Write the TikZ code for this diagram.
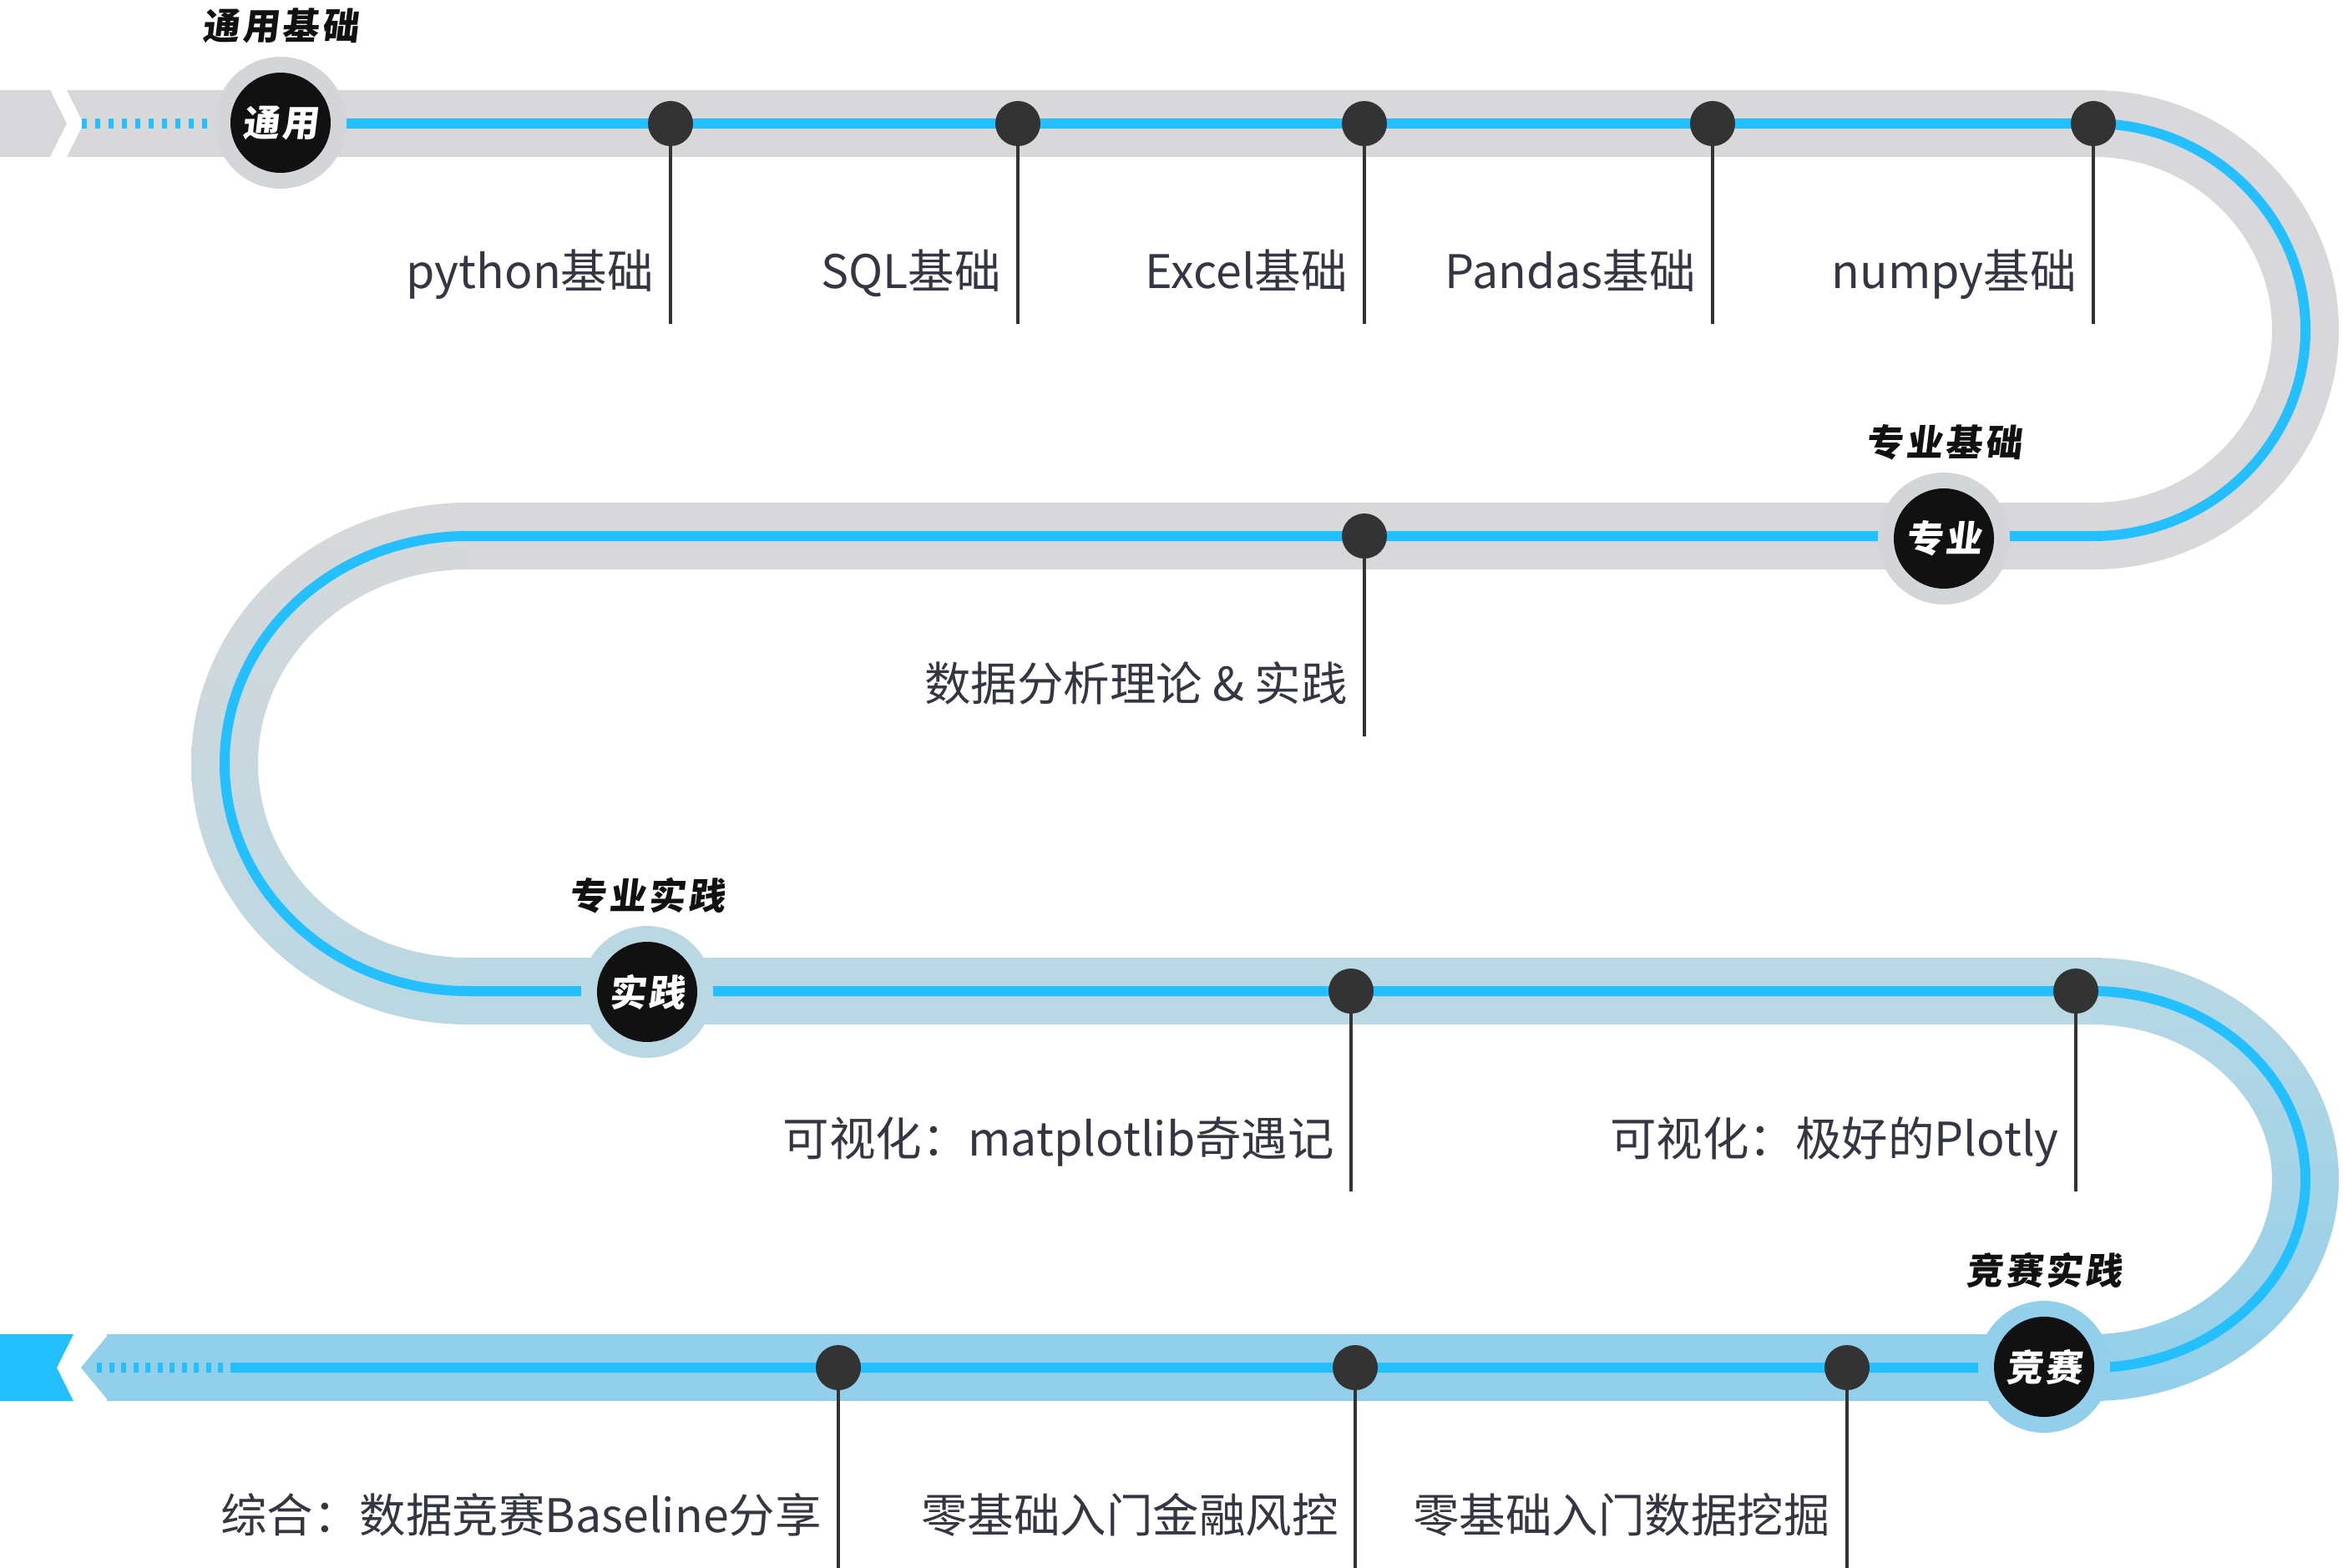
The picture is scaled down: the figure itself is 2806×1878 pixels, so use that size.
\documentclass[tikz,border=0pt]{standalone}
\usepackage{fontspec}
\setmainfont{Noto Sans CJK SC}
\newfontfamily\headfont[FakeSlant=0.12, LetterSpace=8]{Noto Sans CJK SC}

\definecolor{lineblue}{RGB}{36,191,255}
\definecolor{bandgray}{RGB}{216,216,218}
\definecolor{ringgray}{RGB}{212,213,216}
\definecolor{bandmist}{RGB}{185,216,227}
\definecolor{bandsky}{RGB}{145,207,234}
\definecolor{ink}{RGB}{51,51,51}
\definecolor{labelink}{RGB}{52,54,66}
\definecolor{badgeblack}{RGB}{17,17,17}

\tikzset{
  band/.style={line width=80pt},
  track/.style={line width=12pt, draw=lineblue},
  trackdash/.style={line width=12pt, draw=lineblue, dash pattern=on 6pt off 10pt},
  stopdot/.style={circle, fill=ink, minimum size=54pt, inner sep=0pt},
  stem/.style={draw=ink, line width=4.5pt},
  stoplabel/.style={text=labelink, font=\fontsize{55.5}{60}\selectfont, inner sep=0pt},
  ring/.style={circle, minimum size=158pt, inner sep=0pt},
  badge/.style={circle, fill=badgeblack, minimum size=120pt, inner sep=0pt,
    text=white, font=\headfont\bfseries\fontsize{44}{48}\selectfont},
  stagetitle/.style={text=badgeblack, inner sep=0pt,
    font=\headfont\bfseries\fontsize{44}{48}\selectfont},
}

% a stop on the track: dot, stem hanging below it, label left of the stem
% #1 name, #2 x, #3 y, #4 stem length, #5 text
\newcommand\milestone[5]{%
  \node[stopdot] (#1) at (#2,#3) {};
  \coordinate (#1-foot) at (#2,#3+#4);
  \draw[stem] (#1.south) -- (#1-foot);
  \node[stoplabel, anchor=base east] (#1-text) at (#2-20,#3+197) {#5};
}

% a stage badge with its title above
% #1 name, #2 x, #3 y, #4 ring colour, #5 badge text, #6 title
\newcommand\stage[6]{%
  \node[ring, fill=#4] (#1-ring) at (#2,#3) {};
  \node[badge] (#1) at (#2,#3) {#5};
  \node[stagetitle, anchor=base] (#1-title) at (#2,#3-99) {#6};
}

\begin{document}
\begin{tikzpicture}[x=1pt, y=-1pt]
\useasboundingbox (0,0) rectangle (2806,1878);

% ---- the road (wide band) ----
% entry chevrons at the top left
\fill[bandgray] (0,108) -- (60,108) -- (80,148) -- (60,188) -- (0,188) -- cycle;
\fill[bandgray] (80,108) -- (100,148) -- (80,188) -- (142,188) -- (142,108) -- cycle;
% first row, first bend, second row
\draw[band, draw=bandgray] (140,148) -- (2507,148)
  arc[start angle=-90, end angle=90, x radius=254, y radius=247] -- (559,642);
% left bend, grey fading into blue
\shade[top color=bandgray, middle color=bandgray!55!bandmist, bottom color=bandmist]
  (560,602) arc[start angle=-90, end angle=-270, x radius=331, y radius=312.5]
  -- (560,1147) arc[start angle=90, end angle=270, x radius=251, y radius=232.5] -- cycle;
% third row
\draw[band, draw=bandmist] (559,1187) -- (2506,1187);
% right bend down to the last row
\shade[top color=bandmist, bottom color=bandsky]
  (2505,1147) arc[start angle=-90, end angle=90, x radius=296, y radius=265.5]
  -- (2505,1598) arc[start angle=90, end angle=-90, x radius=216, y radius=185.5] -- cycle;
% last row with its exit arrow
\draw[band, draw=bandsky] (2506,1638) -- (128,1638);
\fill[bandsky] (130,1598) -- (97,1638) -- (130,1678) -- cycle;
\fill[lineblue] (0,1598) -- (88,1598) -- (68,1638) -- (88,1678) -- (0,1678) -- cycle;

% ---- the blue line along the road ----
\draw[track] (336,148) -- (2507,148)
  arc[start angle=-90, end angle=90, x radius=254, y radius=247] -- (560,642)
  arc[start angle=-90, end angle=-270, x radius=291, y radius=272.5] -- (2505,1187)
  arc[start angle=-90, end angle=90, x radius=256, y radius=225.5] -- (279,1638);
\draw[trackdash] (98,148) -- (258,148);
\draw[trackdash, dash pattern=on 6pt off 8.5pt] (116,1638) -- (279,1638);

% ---- stops ----
\milestone{py}{803}{148}{240}{python基础}
\milestone{sql}{1219}{148}{240}{SQL基础}
\milestone{xl}{1634}{148}{240}{Excel基础}
\milestone{pd}{2051}{148}{240}{Pandas基础}
\milestone{np}{2507}{148}{240}{numpy基础}

\milestone{da}{1634}{642}{240}{数据分析理论 \& 实践}

\milestone{mpl}{1618}{1187}{240}{可视化：matplotlib奇遇记}
\milestone{ply}{2486}{1187}{240}{可视化：极好的Plotly}

\milestone{bl}{1004}{1638}{245}{综合：数据竞赛Baseline分享}
\milestone{fin}{1623}{1638}{245}{零基础入门金融风控}
\milestone{dm}{2212}{1638}{245}{零基础入门数据挖掘}

% ---- stages ----
\stage{gen}{336}{147}{ringgray}{通用}{通用基础}
\stage{pro}{2328}{645}{ringgray}{专业}{专业基础}
\stage{prac}{775}{1188}{bandmist}{实践}{专业实践}
\stage{comp}{2448}{1637}{bandsky}{竞赛}{竞赛实践}
\end{tikzpicture}
\end{document}
